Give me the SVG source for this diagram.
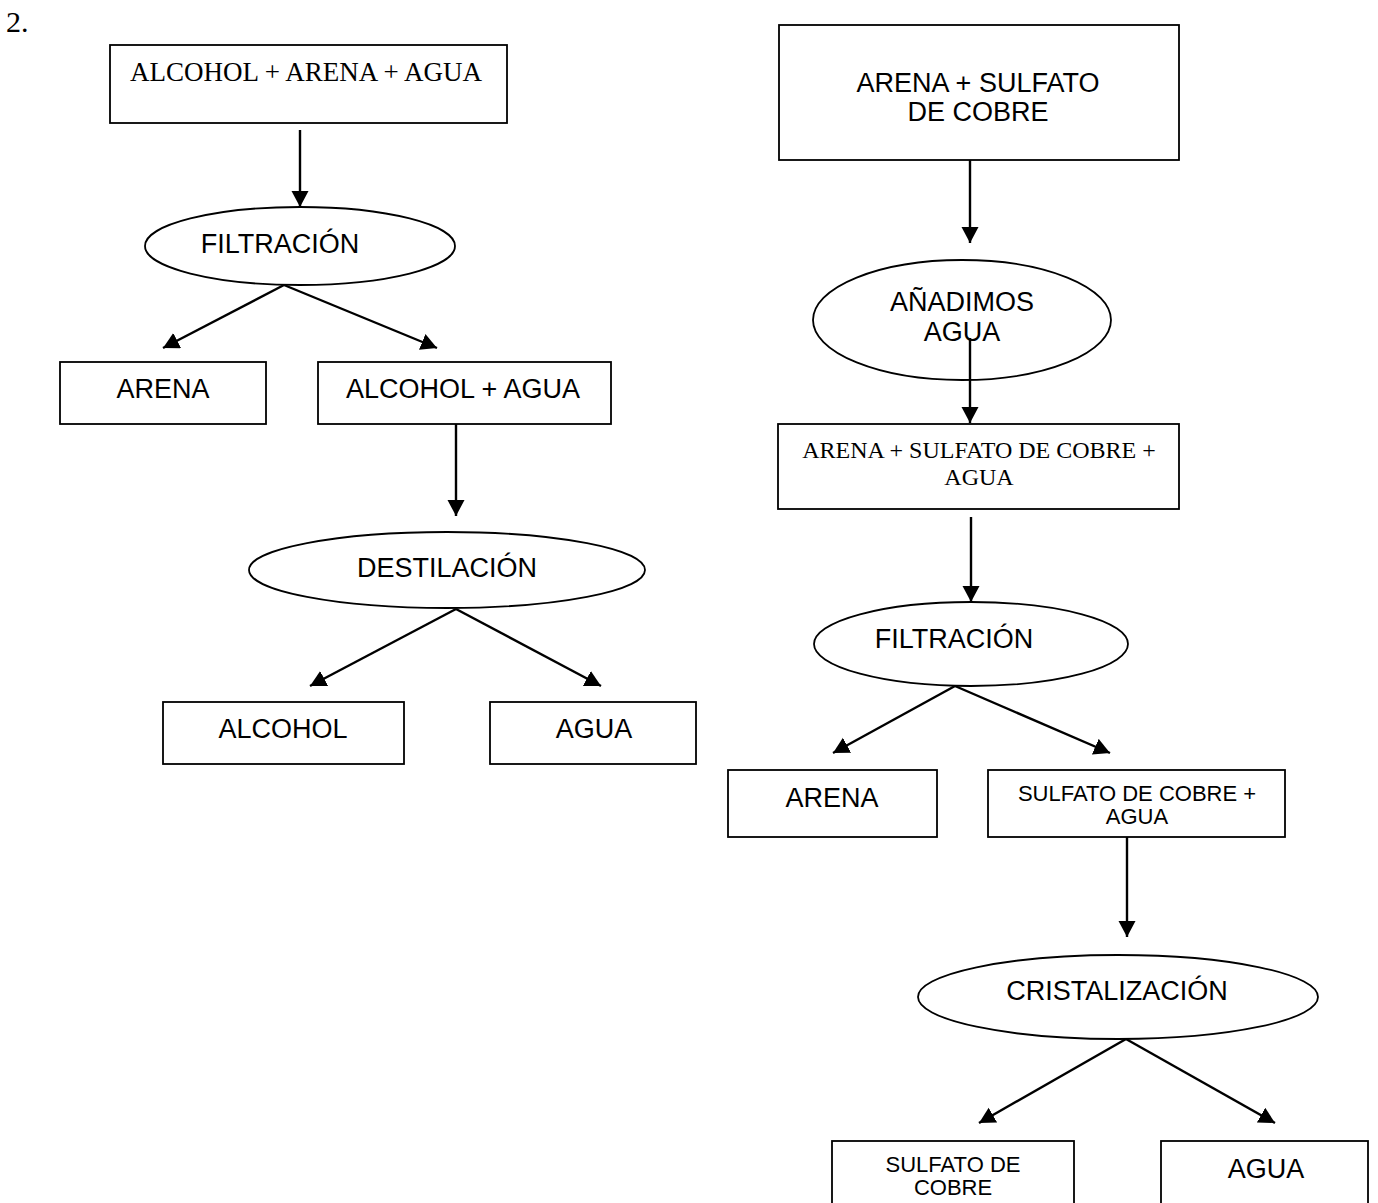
<svg xmlns="http://www.w3.org/2000/svg" width="1378" height="1203" viewBox="0 0 1378 1203">
<defs>
<marker id="ah" markerUnits="userSpaceOnUse" markerWidth="18" markerHeight="18" refX="16" refY="8.5" orient="auto">
<path d="M0,0 L16,8.5 L0,17 z" fill="#000"/>
</marker>
<style>
.box{fill:#fff;stroke:#000;stroke-width:1.8}
.ell{fill:#fff;stroke:#000;stroke-width:1.8}
.s{font-family:"Liberation Sans",Arial,sans-serif;font-size:27px;fill:#000;text-anchor:middle}
.s22{font-family:"Liberation Sans",Arial,sans-serif;font-size:22px;fill:#000;text-anchor:middle}
.t{font-family:"Liberation Serif","Times New Roman",serif;fill:#000;text-anchor:middle}
.c{stroke:#000;stroke-width:2.4;fill:none;marker-end:url(#ah)}
</style>
</defs>
<rect width="1378" height="1203" fill="#fff"/>
<text x="6" y="32" font-family="Liberation Serif,Times New Roman,serif" font-size="30">2.</text>

<!-- left flow -->
<g id="n_mix1"><rect class="box" x="110" y="45" width="397" height="78"/><text class="t" font-size="27" x="306" y="81">ALCOHOL + ARENA + AGUA</text></g>
<g id="n_filt1"><ellipse class="ell" cx="300" cy="246" rx="155" ry="39"/><text class="s" font-size="28" x="280" y="253">FILTRACIÓN</text></g>
<g id="n_arena1"><rect class="box" x="60" y="362" width="206" height="62"/><text class="s" x="163" y="398">ARENA</text></g>
<g id="n_alcagua"><rect class="box" x="318" y="362" width="293" height="62"/><text class="s" x="463" y="398">ALCOHOL + AGUA</text></g>
<g id="n_dest"><ellipse class="ell" cx="447" cy="570" rx="198" ry="38"/><text class="s" x="447" y="577">DESTILACIÓN</text></g>
<g id="n_alcohol"><rect class="box" x="163" y="702" width="241" height="62"/><text class="s" x="283" y="738">ALCOHOL</text></g>
<g id="n_agua1"><rect class="box" x="490" y="702" width="206" height="62"/><text class="s" x="594" y="738">AGUA</text></g>

<!-- right flow -->
<g id="n_mix2"><rect class="box" x="779" y="25" width="400" height="135"/><text class="s" x="978" y="92">ARENA + SULFATO</text><text class="s" x="978" y="121">DE COBRE</text></g>
<g id="n_anad"><ellipse class="ell" cx="962" cy="320" rx="149" ry="60"/><text class="s" x="962" y="311">AÑADIMOS</text><text class="s" x="962" y="341">AGUA</text></g>
<g id="n_mix3"><rect class="box" x="778" y="424" width="401" height="85"/><text class="t" font-size="24" x="979" y="458">ARENA + SULFATO DE COBRE +</text><text class="t" font-size="24" x="979" y="485">AGUA</text></g>
<g id="n_filt2"><ellipse class="ell" cx="971" cy="644" rx="157" ry="42"/><text class="s" font-size="28" x="954" y="648">FILTRACIÓN</text></g>
<g id="n_arena2"><rect class="box" x="728" y="770" width="209" height="67"/><text class="s" x="832" y="807">ARENA</text></g>
<g id="n_sulfagua"><rect class="box" x="988" y="770" width="297" height="67"/><text class="s22" x="1137" y="801">SULFATO DE COBRE +</text><text class="s22" x="1137" y="824">AGUA</text></g>
<g id="n_crist"><ellipse class="ell" cx="1118" cy="997" rx="200" ry="42"/><text class="s" x="1117" y="1000">CRISTALIZACIÓN</text></g>
<g id="n_sulf"><rect class="box" x="832" y="1141" width="242" height="70"/><text class="s22" x="953" y="1172">SULFATO DE</text><text class="s22" x="953" y="1195">COBRE</text></g>
<g id="n_agua2"><rect class="box" x="1161" y="1141" width="207" height="70"/><text class="s" x="1266" y="1178">AGUA</text></g>

<g id="connectors">
<line class="c" x1="300" y1="130" x2="300" y2="207"/>
<line class="c" x1="284" y1="285" x2="163" y2="348"/>
<line class="c" x1="284" y1="285" x2="437" y2="348"/>
<line class="c" x1="456" y1="424" x2="456" y2="516"/>
<line class="c" x1="456" y1="609" x2="310" y2="686"/>
<line class="c" x1="456" y1="609" x2="601" y2="686"/>
<line class="c" x1="970" y1="160" x2="970" y2="243"/>
<line class="c" x1="970" y1="338" x2="970" y2="423"/>
<line class="c" x1="971" y1="517" x2="971" y2="602"/>
<line class="c" x1="955" y1="686" x2="833" y2="753"/>
<line class="c" x1="955" y1="686" x2="1110" y2="753"/>
<line class="c" x1="1127" y1="837" x2="1127" y2="937"/>
<line class="c" x1="1126" y1="1039" x2="979" y2="1123"/>
<line class="c" x1="1126" y1="1039" x2="1275" y2="1123"/>
</g>
</svg>
